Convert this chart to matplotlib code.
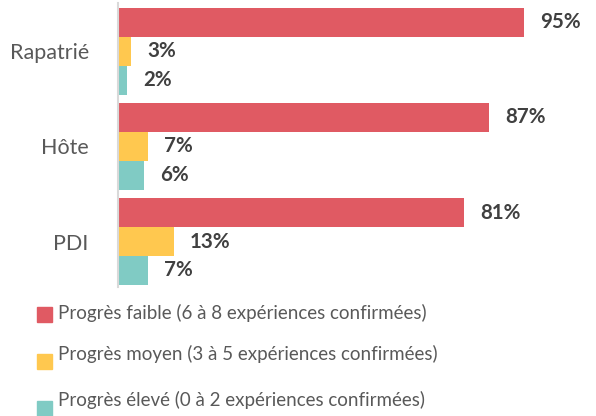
import matplotlib
matplotlib.use('Agg')
import matplotlib.pyplot as plt
from matplotlib.patches import Rectangle
import numpy as np

categories = ['Rapatrié', 'Hôte', 'PDI']
faible = [95, 87, 81]
moyen = [3, 7, 13]
eleve = [2, 6, 7]
series_labels = ['Progrès faible (6 à 8 expériences confirmées)',
                 'Progrès moyen (3 à 5 expériences confirmées)',
                 'Progrès élevé (0 à 2 expériences confirmées)']
colors = ['#E05A63', '#FFC84F', '#80CBC4']

plt.rcParams['font.family'] = ['Lato', 'DejaVu Sans']

W, H = 596, 416
fig = plt.figure(figsize=(W / 100, H / 100), dpi=100)
ax = fig.add_axes([118 / W, 0.310, 427 / W, 0.683])

y = np.arange(len(categories))
h = 0.305
for i, (vals, col) in enumerate(zip([faible, moyen, eleve], colors)):
    pos = y + (i - 1) * h
    ax.barh(pos, vals, height=h, color=col, label=series_labels[i])
    for p, v in zip(pos, vals):
        ax.text(v + 3.8, p, f'{v}%', va='center', ha='left',
                fontsize=14.8, fontweight='bold', color='#404040')

ax.set_xlim(0, 100)
ax.set_ylim(2.479, -0.51)
ax.set_yticks(y)
ax.set_yticklabels(categories, fontsize=15.5, color='#595959')
ax.tick_params(axis='y', length=0, pad=21)
ax.set_xticks([])
for s in ['top', 'right', 'bottom']:
    ax.spines[s].set_visible(False)
ax.spines['left'].set_color('#D9D9D9')
ax.spines['left'].set_linewidth(1.5)

# legend drawn by hand (uneven row spacing as in the original)
text_y = [313, 354, 400]
box_y = [314, 361, 408]
for lab, col, ty, by in zip(series_labels, colors, text_y, box_y):
    fig.patches.append(Rectangle((37 / W, 1 - (by + 7.5) / H), 15 / W, 15 / H,
                                 transform=fig.transFigure, color=col))
    fig.text(58 / W, 1 - ty / H, lab, fontsize=13.5, color='#595959',
             va='center', ha='left')

fig.savefig('out.png', dpi=100)
